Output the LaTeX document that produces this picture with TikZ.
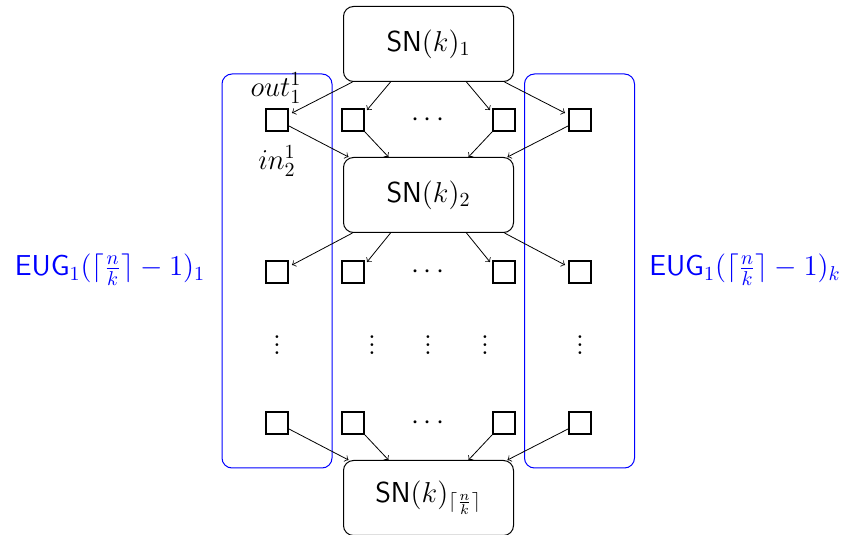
\documentclass[tikz,border=0pt]{standalone}
\begin{document}
\begin{tikzpicture}[x=0.5pt,y=-0.5pt,
  snbox/.style={draw, rounded corners=5pt, minimum width=85pt, minimum height=37.5pt, font=\Large, inner sep=0pt, line width=0.5pt},
  sq/.style={draw, line width=1.2pt, minimum size=10.8pt, inner sep=0pt},
  grp/.style={draw=blue, rounded corners=5pt, line width=0.5pt, minimum width=55pt, minimum height=197pt, inner sep=0pt},
  lab/.style={font=\Large, inner sep=0pt},
  arr/.style={->, line width=0.4pt}]
\useasboundingbox (0,0) rectangle (848,535);
% groups
\node[grp] (g1) at (277,271) {};
\node[grp] (g2) at (579.5,271) {};
% SN boxes
\node[snbox] (sn1) at (428.5,44) {$\mathsf{SN}(k)_1$};
\node[snbox] (sn2) at (428.5,195) {$\mathsf{SN}(k)_2$};
\node[snbox] (sn3) at (428.5,498) {$\mathsf{SN}(k)_{\lceil\frac{n}{k}\rceil}$};
% squares
\foreach \r/\y in {1/120,2/272,3/423}{
  \node[sq] (s\r1) at (277,\y) {};
  \node[sq] (s\r2) at (353,\y) {};
  \node[sq] (s\r3) at (504,\y) {};
  \node[sq] (s\r4) at (580,\y) {};
  \node[lab] (h\r) at (428,\y) {$\cdots$};
}
% vdots
\node[lab] (v1) at (277,339) {$\vdots$};
\node[lab] (v2) at (372,339) {$\vdots$};
\node[lab] (v3) at (428,339) {$\vdots$};
\node[lab] (v4) at (485,339) {$\vdots$};
\node[lab] (v5) at (580,339) {$\vdots$};
% arrows from SN boxes down to squares
\foreach \a/\b in {sn1/1,sn2/2}{
  \draw[arr] ([xshift=-38pt]\a.south) -- ([shift={(1.5pt,-2.5pt)}]s\b1.north east);
  \draw[arr] ([xshift=-19pt]\a.south) -- ([shift={(1pt,-1pt)}]s\b2.north east);
  \draw[arr] ([xshift=19pt]\a.south) -- ([shift={(-1pt,-1pt)}]s\b3.north west);
  \draw[arr] ([xshift=38pt]\a.south) -- ([shift={(-1.5pt,-2.5pt)}]s\b4.north west);
}
% arrows from squares to SN boxes
\foreach \b/\a in {1/sn2,3/sn3}{
  \draw[arr] ([yshift=-3pt]s\b1.east) -- ([xshift=-40pt]\a.north);
  \draw[arr] (s\b2.south east) -- ([xshift=-20pt]\a.north);
  \draw[arr] (s\b3.south west) -- ([xshift=20pt]\a.north);
  \draw[arr] ([yshift=-3pt]s\b4.west) -- ([xshift=39.5pt]\a.north);
}
% labels
\node[lab] (out) at (276,88) {$out_1^1$};
\node[lab] (in) at (277,161) {$in_2^1$};
\node[lab, text=blue] (e1) at (110,270) {$\mathsf{EUG}_1(\lceil\frac{n}{k}\rceil-1)_1$};
\node[lab, text=blue] (e2) at (745,270) {$\mathsf{EUG}_1(\lceil\frac{n}{k}\rceil-1)_k$};
\end{tikzpicture}
\end{document}
